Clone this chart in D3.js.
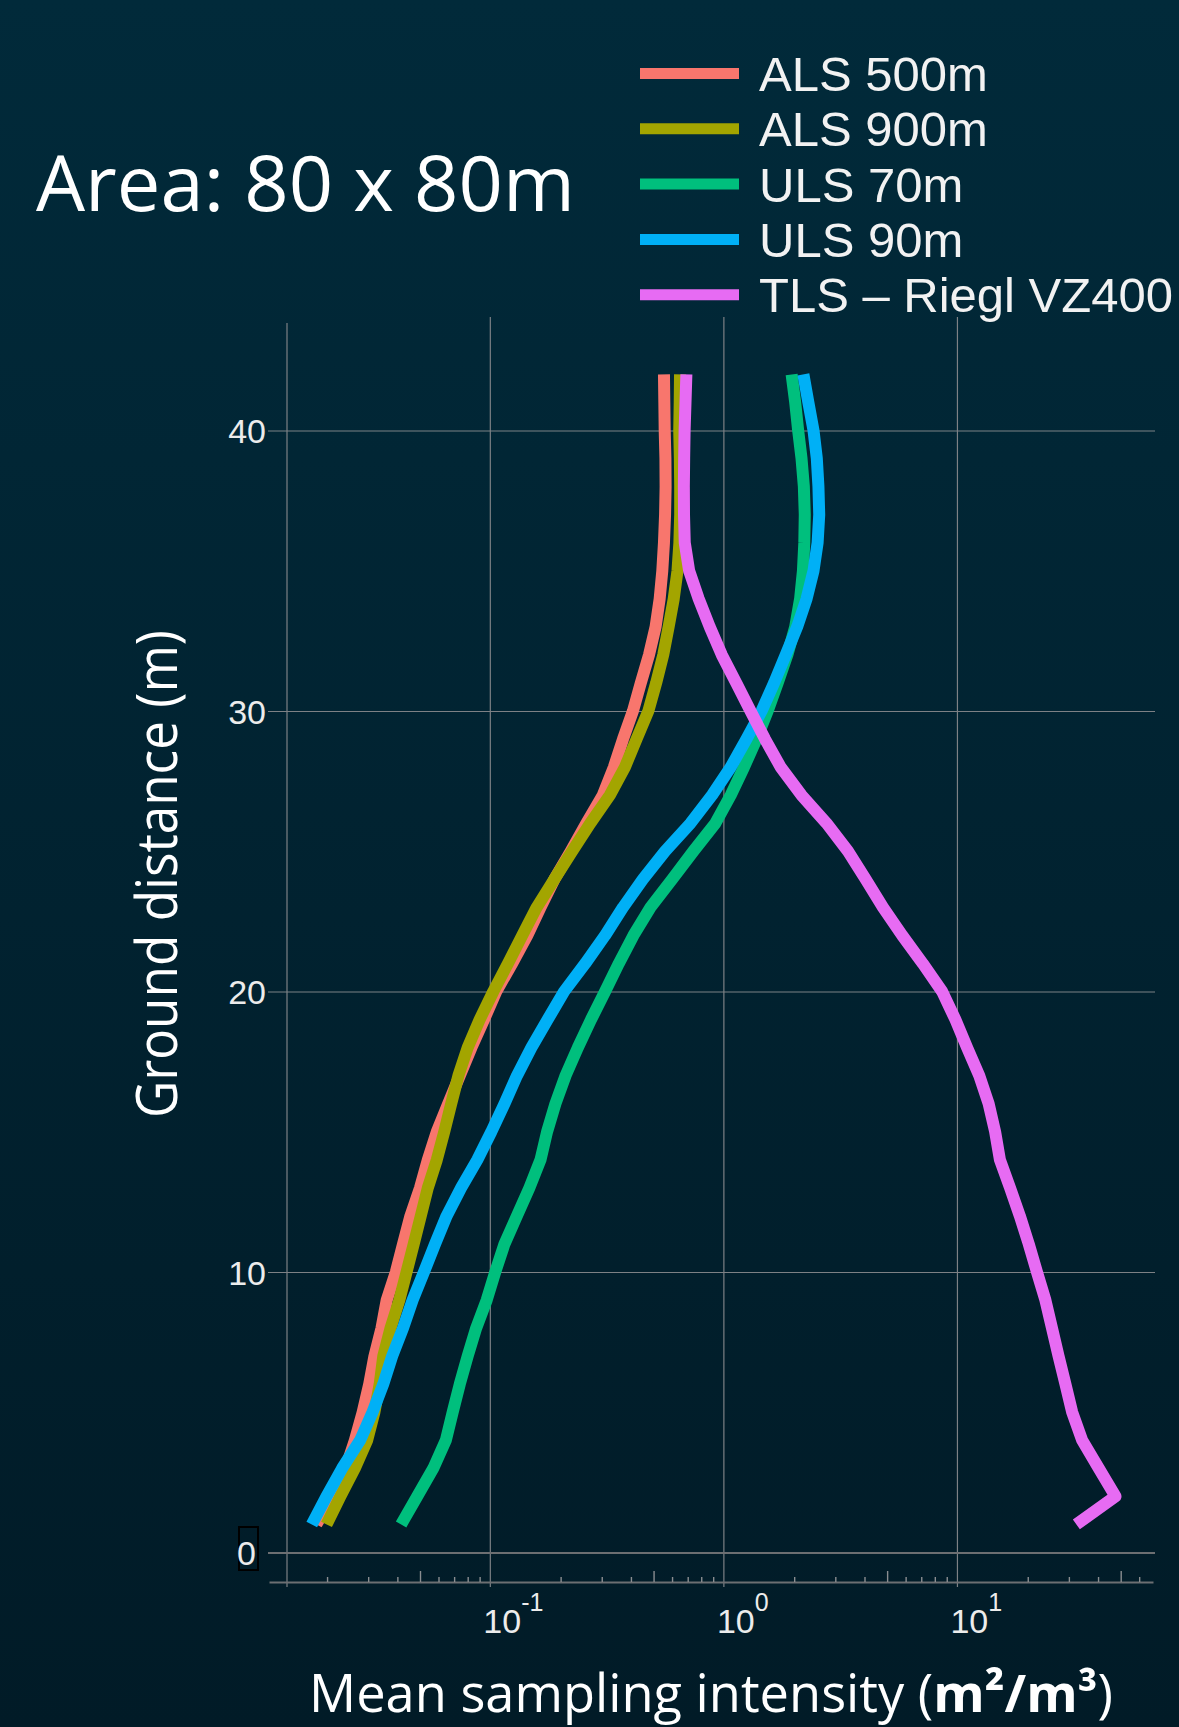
<!DOCTYPE html>
<html>
<head>
<meta charset="utf-8">
<script src="https://cdn.jsdelivr.net/npm/d3@7"></script>
<style>
  html, body { margin: 0; padding: 0; background: #011f2d; }
  svg { display: block; }
</style>
</head>
<body>
<div id="chart"></div>
<script>
// ground distance (m), one row per metre
var depth = [1, 2, 3, 4, 5, 6, 7, 8, 9, 10, 11, 12, 13, 14, 15, 16, 17, 18, 19, 20, 21,
  22, 23, 24, 25, 26, 27, 28, 29, 30, 31, 32, 33, 34, 35, 36, 37, 38, 39, 40, 41, 42];

// mean sampling intensity (m2/m3)
var als500 = [0.018, 0.021, 0.024, 0.0263, 0.0284, 0.0303, 0.0319, 0.0342, 0.036, 0.0394,
  0.0423, 0.0455, 0.050, 0.054, 0.059, 0.066, 0.074, 0.083, 0.094, 0.106,
  0.124, 0.144, 0.164, 0.188, 0.221, 0.258, 0.303, 0.338, 0.37, 0.408,
  0.441, 0.478, 0.51, 0.531, 0.545, 0.554, 0.56, 0.563, 0.562, 0.558, 0.556, 0.554];
var als900 = [0.0199, 0.0228, 0.0263, 0.0297, 0.0319, 0.0336, 0.0348, 0.0374, 0.0408, 0.0438,
  0.047, 0.0504, 0.054, 0.059, 0.0635, 0.068, 0.073, 0.080, 0.090, 0.103,
  0.119, 0.137, 0.158, 0.188, 0.224, 0.268, 0.325, 0.377, 0.423, 0.475,
  0.513, 0.55, 0.58, 0.61, 0.633, 0.645, 0.65, 0.65, 0.648, 0.644, 0.647, 0.649];
var uls70 = [0.0415, 0.0486, 0.057, 0.0645, 0.069, 0.074, 0.080, 0.087, 0.0965, 0.105,
  0.115, 0.130, 0.147, 0.164, 0.175, 0.19, 0.21, 0.237, 0.27, 0.31,
  0.355, 0.41, 0.485, 0.60, 0.74, 0.92, 1.07, 1.22, 1.38, 1.54,
  1.70, 1.87, 2.02, 2.12, 2.18, 2.21, 2.22, 2.20, 2.15, 2.08, 2.02, 1.95];
var uls90 = [0.0172, 0.0199, 0.0232, 0.0277, 0.0313, 0.0348, 0.038, 0.0423, 0.0465, 0.052,
  0.058, 0.065, 0.075, 0.088, 0.101, 0.115, 0.130, 0.150, 0.176, 0.207,
  0.255, 0.31, 0.37, 0.45, 0.56, 0.72, 0.89, 1.07, 1.25, 1.45,
  1.64, 1.84, 2.06, 2.26, 2.42, 2.52, 2.56, 2.54, 2.50, 2.42, 2.30, 2.19];
var tls = [32.3, 47.5, 40.3, 34.2, 31.0, 29.0, 27.1, 25.4, 23.8, 21.9,
  20.2, 18.5, 16.8, 15.2, 14.5, 13.6, 12.4, 11.0, 9.8, 8.6,
  7.1, 5.8, 4.8, 4.05, 3.4, 2.75, 2.15, 1.75, 1.50, 1.30,
  1.13, 0.98, 0.87, 0.78, 0.71, 0.68, 0.675, 0.674, 0.676, 0.679, 0.685, 0.691];

var seriesNames = ["ALS 500m", "ALS 900m", "ULS 70m", "ULS 90m", "TLS \u2013 Riegl VZ400"];
var seriesValues = [als500, als900, uls70, uls90, tls];
var seriesColors = ["#F8766D", "#A3A500", "#00BF7D", "#00B0F6", "#E76BF3"];

var yTicks = [0, 10, 20, 30, 40];
var xTicks = [0.1, 1, 10];
var xTickExp = ["-1", "0", "1"];

(function () {
  var W = 1179, H = 1727;

  // plot frame (pixels)
  var gridLeft = 268, gridRight = 1155;
  var gridTop = 317, gridBottom = 1587;
  var spineX = 287, spineTop = 323;
  var axisY = 1582, axisLeft = 269, axisRight = 1153;

  var svg = d3.select("#chart").append("svg")
    .attr("width", W)
    .attr("height", H);

  var grad = svg.append("defs").append("linearGradient")
    .attr("id", "bg")
    .attr("x1", 0).attr("y1", 0).attr("x2", 0).attr("y2", 1);
  grad.append("stop").attr("offset", "0%").attr("stop-color", "#012a3a");
  grad.append("stop").attr("offset", "100%").attr("stop-color", "#011b27");

  svg.append("rect")
    .attr("width", W).attr("height", H)
    .attr("fill", "url(#bg)");

  var x = d3.scaleLog().domain([0.01, 100]).range([256.75, 1191]);
  var y = d3.scaleLinear().domain([0, 40]).range([1552.5, 430.5]);

  // vertical grid at decades + left spine
  svg.selectAll("line.vgrid")
    .data(xTicks)
    .enter().append("line")
    .attr("class", "vgrid")
    .attr("x1", function (d) { return x(d); })
    .attr("x2", function (d) { return x(d); })
    .attr("y1", gridTop)
    .attr("y2", gridBottom)
    .attr("stroke", "#7d8185")
    .attr("stroke-width", 1.2);

  svg.append("line")
    .attr("x1", spineX).attr("x2", spineX)
    .attr("y1", spineTop).attr("y2", gridBottom)
    .attr("stroke", "#7d8185")
    .attr("stroke-width", 1.2);

  // y axis: ticks stretched into horizontal gridlines
  var yAxis = svg.append("g")
    .attr("transform", "translate(" + gridLeft + ",0)")
    .call(d3.axisLeft(y)
      .tickValues(yTicks)
      .tickSize(-(gridRight - gridLeft))
      .tickPadding(2)
      .tickFormat(d3.format("d")));
  yAxis.select(".domain").remove();
  yAxis.selectAll(".tick line")
    .attr("stroke", function (d) { return d === 0 ? "#6c6f72" : "#7d8185"; })
    .attr("stroke-width", function (d) { return d === 0 ? 2.2 : 1.2; });
  yAxis.selectAll(".tick text")
    .attr("fill", "#ececec")
    .attr("font-family", "'Liberation Sans', Arial, sans-serif")
    .attr("font-size", 34)
    .attr("dy", "0.36em");

  // the zero label sits further left inside a dark box
  var zeroTick = yAxis.selectAll(".tick").filter(function (d) { return d === 0; });
  zeroTick.select("text").attr("x", -12);
  zeroTick.insert("rect", "text")
    .attr("x", -29).attr("y", -26)
    .attr("width", 19).attr("height", 43)
    .attr("fill", "none")
    .attr("stroke", "#000")
    .attr("stroke-width", 2);

  // x axis with log minor ticks pointing up
  var axisScale = x.copy()
    .domain([x.invert(axisLeft), x.invert(axisRight)])
    .range([axisLeft, axisRight]);

  var minorTicks = [], fiveTicks = [];
  [0.01, 0.1, 1, 10].forEach(function (dec) {
    for (var k = 2; k <= 9; k++) {
      var v = k * dec;
      if (x(v) > axisLeft && x(v) < axisRight) {
        if (k === 5) fiveTicks.push(v); else minorTicks.push(v);
      }
    }
  });

  var xAxis = svg.append("g")
    .attr("transform", "translate(0," + axisY + ")")
    .call(d3.axisBottom(axisScale)
      .tickValues(minorTicks)
      .tickSize(-5)
      .tickSizeOuter(0)
      .tickFormat(""));
  xAxis.select(".domain").attr("stroke", "#6c6f72").attr("stroke-width", 2.2);
  xAxis.selectAll(".tick line").attr("stroke", "#8a8d90").attr("stroke-width", 1.4);

  var xAxisFive = svg.append("g")
    .attr("transform", "translate(0," + axisY + ")")
    .call(d3.axisBottom(axisScale)
      .tickValues(fiveTicks)
      .tickSize(-11)
      .tickSizeOuter(0)
      .tickFormat(""));
  xAxisFive.select(".domain").remove();
  xAxisFive.selectAll(".tick line").attr("stroke", "#8a8d90").attr("stroke-width", 1.4);

  // decade labels 10^n
  var xLab = svg.selectAll("text.xlab")
    .data(xTicks)
    .enter().append("text")
    .attr("class", "xlab")
    .attr("x", function (d) { return x(d) - 7; })
    .attr("y", 1633)
    .attr("fill", "#ececec")
    .attr("font-family", "'Liberation Sans', Arial, sans-serif")
    .attr("font-size", 34);
  xLab.append("tspan").text("10");
  xLab.append("tspan")
    .attr("dy", -22)
    .attr("font-size", 25)
    .text(function (d, i) { return xTickExp[i]; });

  // series
  var line = d3.line()
    .x(function (d) { return x(d[0]); })
    .y(function (d) { return y(d[1]); });

  svg.selectAll("path.series")
    .data(seriesValues)
    .enter().append("path")
    .attr("class", "series")
    .attr("d", function (vals) {
      return line(vals.map(function (v, i) { return [v, depth[i]]; }));
    })
    .attr("fill", "none")
    .attr("stroke", function (d, i) { return seriesColors[i]; })
    .attr("stroke-width", 12)
    .attr("stroke-linecap", "butt")
    .attr("stroke-linejoin", "round");

  // legend
  var leg = svg.selectAll("g.leg")
    .data(seriesNames)
    .enter().append("g")
    .attr("class", "leg")
    .attr("transform", function (d, i) { return "translate(0," + (73.5 + i * 55.3) + ")"; });
  leg.append("line")
    .attr("x1", 640).attr("x2", 739)
    .attr("stroke", function (d, i) { return seriesColors[i]; })
    .attr("stroke-width", 11);
  leg.append("text")
    .attr("x", 759)
    .attr("y", 17.5)
    .attr("fill", "#f2f2f2")
    .attr("font-family", "'Liberation Sans', Arial, sans-serif")
    .attr("font-size", 49)
    .text(function (d) { return d; });

  function fitWidth(sel, w) {
    var len = sel.node().getComputedTextLength();
    var fs = parseFloat(sel.attr("font-size"));
    sel.attr("font-size", fs * w / len);
  }

  var title = svg.append("text")
    .attr("x", 36)
    .attr("y", 211)
    .attr("fill", "#ffffff")
    .attr("font-family", "'Open Sans', sans-serif")
    .attr("font-size", 78)
    .text("Area: 80 x 80m");
  fitWidth(title, 539);

  svg.append("text")
    .attr("transform", "translate(177,874) rotate(-90)")
    .attr("text-anchor", "middle")
    .attr("fill", "#ffffff")
    .attr("font-family", "'Open Sans', sans-serif")
    .attr("font-size", 57)
    .attr("textLength", 488)
    .attr("lengthAdjust", "spacingAndGlyphs")
    .text("Ground distance (m)");

  var xTitle = svg.append("text")
    .attr("x", 711)
    .attr("y", 1712)
    .attr("text-anchor", "middle")
    .attr("fill", "#ffffff")
    .attr("font-family", "'Open Sans', sans-serif")
    .attr("font-size", 50);
  xTitle.append("tspan").text("Mean sampling intensity (");
  xTitle.append("tspan").attr("font-weight", "bold").text("m\u00b2/m\u00b3");
  xTitle.append("tspan").text(")");
  fitWidth(xTitle, 804);
})();
</script>
</body>
</html>
